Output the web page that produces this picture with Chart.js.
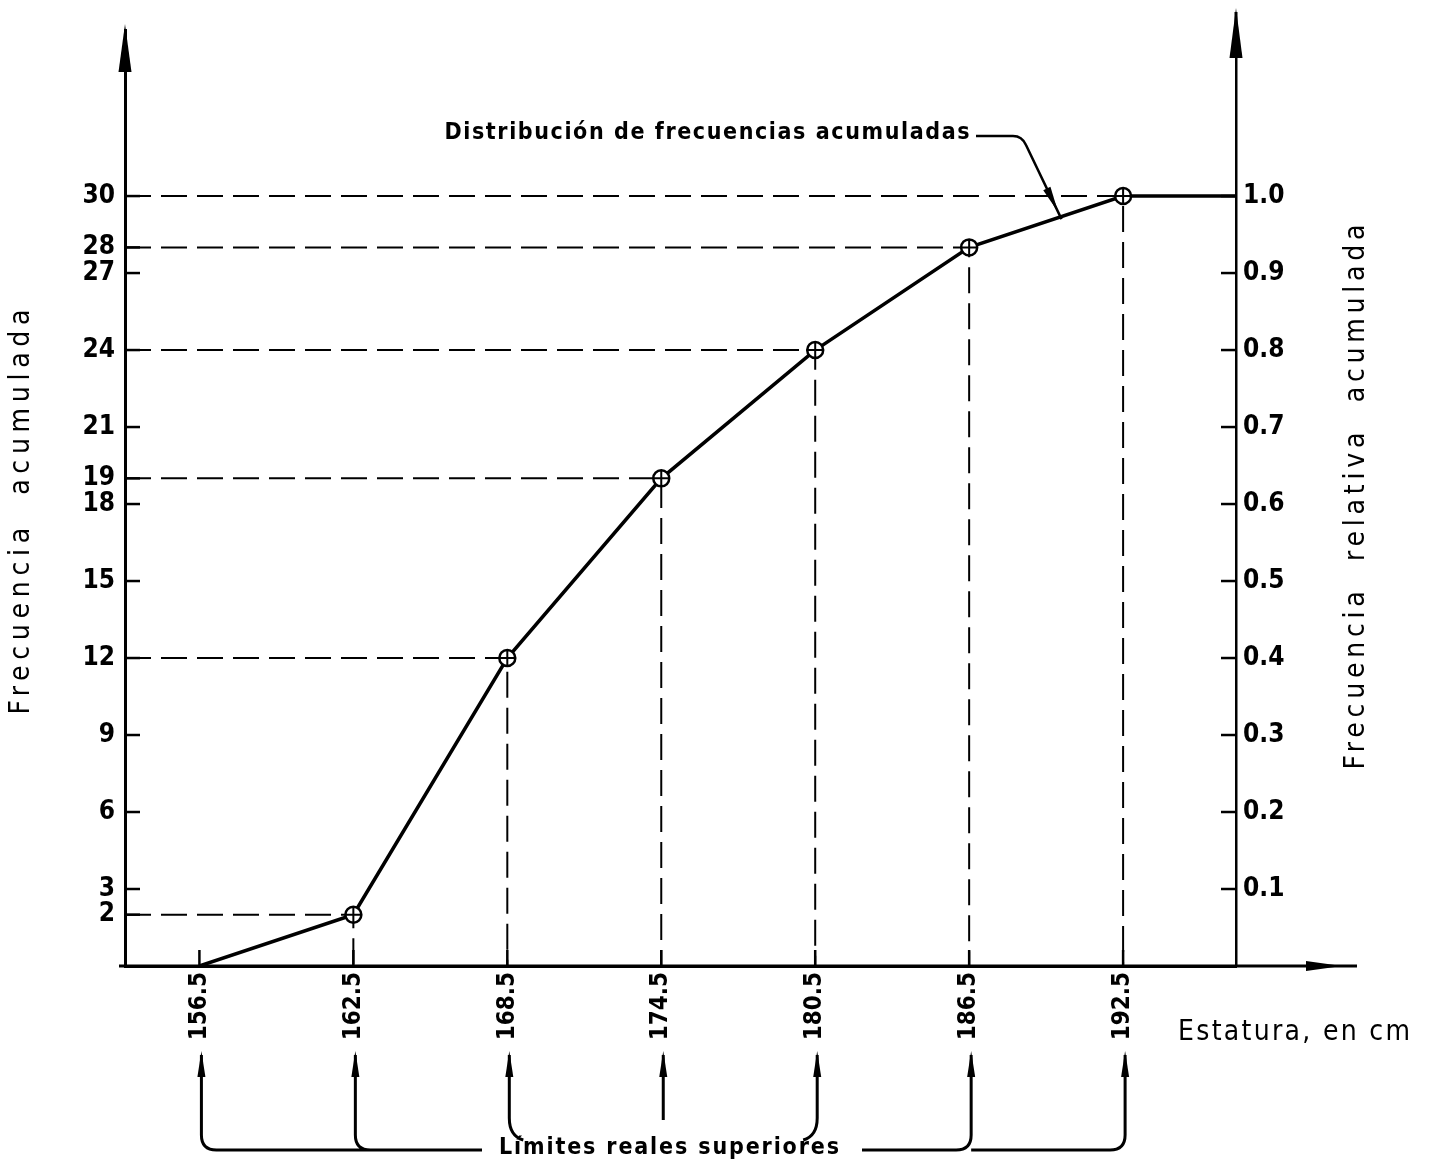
<!DOCTYPE html>
<html>
<head>
<meta charset="utf-8">
<script src="https://cdn.jsdelivr.net/npm/chart.js@4.4.0/dist/chart.umd.min.js"></script>
<style>
  html, body { margin: 0; padding: 0; background: #fff; }
</style>
</head>
<body>
<canvas id="ojiva" width="1429" height="1167"></canvas>
<script>
// limites reales superiores (cm) y frecuencia acumulada
var limites = [156.5, 162.5, 168.5, 174.5, 180.5, 186.5, 192.5];
var frecAcum = [0, 2, 12, 19, 24, 28, 30];
var ticksIzq = [2, 3, 6, 9, 12, 15, 18, 19, 21, 24, 27, 28, 30];
var ticksDer = [0.1, 0.2, 0.3, 0.4, 0.5, 0.6, 0.7, 0.8, 0.9, 1.0];
var total = 30;

var xMin = 153.6, xMax = 196.9, yMax = 36.47;

var fuenteTicks = { family: "'DejaVu Sans Condensed', 'DejaVu Sans', sans-serif", size: 26, weight: 'bold' };
var fuenteTicksX = { family: "'DejaVu Sans Condensed', 'DejaVu Sans', sans-serif", size: 24, weight: 'bold' };
var fuenteTitulo = "28px 'DejaVu Sans Condensed', 'DejaVu Sans', sans-serif";
var fuenteNota = "bold 23px 'DejaVu Sans Condensed', 'DejaVu Sans', sans-serif";

// lineas punteadas guia (horizontal al eje y, vertical al eje x)
var guias = [];
limites.forEach(function(x, i) {
    if (frecAcum[i] === 0) return;
    guias.push({
        data: [{x: xMin, y: frecAcum[i]}, {x: x, y: frecAcum[i]}, {x: x, y: 0}],
        showLine: true,
        borderColor: '#000',
        borderWidth: 2,
        borderDash: [26, 10],
        pointRadius: 0,
        order: 3
    });
});

var puntos = limites.map(function(x, i) { return {x: x, y: frecAcum[i]}; });
var radios = frecAcum.map(function(v) { return v > 0 ? 8 : 0; });

var linea = {
    data: puntos.concat([{x: xMax, y: total}]),
    showLine: true,
    borderColor: '#000',
    borderWidth: 3.5,
    pointRadius: 0,
    order: 2
};
var circulos = {
    data: puntos,
    showLine: false,
    pointStyle: 'circle',
    pointRadius: radios,
    pointBackgroundColor: '#fff',
    pointBorderColor: '#000',
    pointBorderWidth: 2.5,
    order: 1
};
var cruces = {
    data: puntos,
    showLine: false,
    pointStyle: 'cross',
    pointRadius: radios,
    pointBorderColor: '#000',
    pointBorderWidth: 2,
    order: 0
};

function linea2(ctx, x1, y1, x2, y2) {
    ctx.beginPath(); ctx.moveTo(x1, y1); ctx.lineTo(x2, y2); ctx.stroke();
}

function flecha(ctx, x, y, ang, largo, medio) {
    ctx.save();
    ctx.translate(x, y);
    ctx.rotate(ang);
    ctx.beginPath();
    ctx.moveTo(0, 0);
    ctx.lineTo(-largo, -medio);
    ctx.lineTo(-largo, medio);
    ctx.closePath();
    ctx.fill();
    ctx.restore();
}

function texto(ctx, str, cx, cy, ancho, rot, font) {
    ctx.save();
    ctx.translate(cx, cy);
    ctx.rotate(rot);
    ctx.font = font;
    ctx.letterSpacing = '0px';
    var w = ctx.measureText(str).width;
    var sp = Math.max(0, (ancho - w) / (str.length - 1));
    ctx.letterSpacing = sp + 'px';
    ctx.textAlign = 'left';
    ctx.textBaseline = 'middle';
    ctx.fillText(str, -ancho / 2, 0);
    ctx.restore();
}

var decoraciones = {
    id: 'decoraciones',
    afterDraw: function(chart) {
        var ctx = chart.ctx, a = chart.chartArea;
        var sx = chart.scales.x, sy = chart.scales.y, sy2 = chart.scales.y2;
        ctx.save();
        ctx.strokeStyle = '#000';
        ctx.fillStyle = '#000';

        // marcas hacia adentro
        ctx.lineWidth = 2.5;
        ticksIzq.forEach(function(v) {
            var y = sy.getPixelForValue(v);
            linea2(ctx, a.left, y, a.left + 15, y);
        });
        ticksDer.forEach(function(v) {
            var y = sy2.getPixelForValue(v);
            linea2(ctx, a.right - 15, y, a.right, y);
        });
        limites.forEach(function(v) {
            var x = sx.getPixelForValue(v);
            linea2(ctx, x, a.bottom, x, a.bottom - 16);
        });

        // flechas de los ejes
        ctx.lineWidth = 3;
        linea2(ctx, a.right, a.top, a.right, 12);
        linea2(ctx, a.left - 6, a.bottom, 1357, a.bottom);
        flecha(ctx, a.left, 24, -Math.PI / 2, 48, 6.5);
        flecha(ctx, a.right, 8, -Math.PI / 2, 50, 6.5);
        flecha(ctx, 1342, a.bottom, 0, 36, 5);

        // titulos de ejes
        texto(ctx, 'Frecuencia  acumulada', 22, 512, 405, -Math.PI / 2, fuenteTitulo);
        texto(ctx, 'Frecuencia  relativa  acumulada', 1357, 497, 545, -Math.PI / 2, fuenteTitulo);
        texto(ctx, 'Estatura, en cm', 1294, 1033, 232, 0, fuenteTitulo);

        // nota de la curva
        texto(ctx, 'Distribución de frecuencias acumuladas', 707, 133, 525, 0, fuenteNota);
        var xf = sx.getPixelForValue(190.1);
        var yf = sy.getPixelForValue(29.1);
        ctx.lineWidth = 2.5;
        ctx.beginPath();
        ctx.moveTo(976, 136);
        ctx.lineTo(1013, 136);
        ctx.quadraticCurveTo(1022, 136, 1026, 145);
        ctx.lineTo(xf, yf);
        ctx.stroke();
        var ang = Math.atan2(yf - 145, xf - 1026);
        flecha(ctx, xf - 8 * Math.cos(ang), yf - 8 * Math.sin(ang), ang, 26, 4);

        // llaves de limites reales superiores
        var px = limites.map(function(v) { return sx.getPixelForValue(v) + 2; });
        var yTop = 1055, yBase = 1150, r = 15;
        ctx.lineWidth = 3;
        ctx.beginPath();
        ctx.moveTo(px[0], yTop);
        ctx.lineTo(px[0], yBase - r);
        ctx.quadraticCurveTo(px[0], yBase, px[0] + r, yBase);
        ctx.lineTo(482, yBase);
        ctx.moveTo(px[1], yTop);
        ctx.lineTo(px[1], yBase - r);
        ctx.quadraticCurveTo(px[1], yBase, px[1] + r, yBase);
        ctx.moveTo(px[2], yTop);
        ctx.lineTo(px[2], yBase - 32);
        ctx.quadraticCurveTo(px[2], yBase - 14, px[2] + 14, yBase - 10);
        ctx.moveTo(px[3], yTop);
        ctx.lineTo(px[3], yBase - 30);
        ctx.moveTo(px[4], yTop);
        ctx.lineTo(px[4], yBase - 32);
        ctx.quadraticCurveTo(px[4], yBase - 14, px[4] - 14, yBase - 10);
        ctx.moveTo(862, yBase);
        ctx.lineTo(px[5] - r, yBase);
        ctx.quadraticCurveTo(px[5], yBase, px[5], yBase - r);
        ctx.lineTo(px[5], yTop);
        ctx.moveTo(px[5], yBase);
        ctx.lineTo(px[6] - r, yBase);
        ctx.quadraticCurveTo(px[6], yBase, px[6], yBase - r);
        ctx.lineTo(px[6], yTop);
        ctx.stroke();
        px.forEach(function(x) { flecha(ctx, x, yTop - 4, -Math.PI / 2, 26, 4); });
        texto(ctx, 'Límites reales superiores', 669, 1148, 340, 0, fuenteNota);

        ctx.restore();
    }
};

var ctx = document.getElementById('ojiva');
new Chart(ctx, {
    type: 'scatter',
    data: { datasets: guias.concat([linea, circulos, cruces]) },
    options: {
        responsive: false,
        animation: false,
        layout: { padding: { top: 30, left: 0, right: 0, bottom: 0 } },
        plugins: { legend: { display: false }, tooltip: { enabled: false } },
        scales: {
            x: {
                type: 'linear',
                min: xMin,
                max: xMax,
                grid: { display: false, drawTicks: false },
                border: { color: '#000', width: 3 },
                afterBuildTicks: function(s) { s.ticks = limites.map(function(v) { return {value: v}; }); },
                afterFit: function(s) { s.height = 201; },
                ticks: {
                    autoSkip: false, minRotation: 90, maxRotation: 90, padding: 6,
                    color: '#000', font: fuenteTicksX,
                    callback: function(v) { return v.toFixed(1); }
                }
            },
            y: {
                position: 'left',
                min: 0,
                max: yMax,
                grid: { display: false, drawTicks: false },
                border: { color: '#000', width: 3 },
                afterBuildTicks: function(s) { s.ticks = ticksIzq.map(function(v) { return {value: v}; }); },
                afterFit: function(s) { s.width = 125; },
                ticks: { autoSkip: false, padding: 10, color: '#000', font: fuenteTicks }
            },
            y2: {
                position: 'right',
                min: 0,
                max: yMax / total,
                grid: { display: false, drawTicks: false },
                border: { color: '#000', width: 2.5 },
                afterBuildTicks: function(s) { s.ticks = ticksDer.map(function(v) { return {value: v}; }); },
                afterFit: function(s) { s.width = 1429 - 1236; },
                ticks: {
                    autoSkip: false, padding: 7, color: '#000', font: fuenteTicks,
                    callback: function(v) { return v.toFixed(1); }
                }
            }
        }
    },
    plugins: [decoraciones]
});
</script>
</body>
</html>
